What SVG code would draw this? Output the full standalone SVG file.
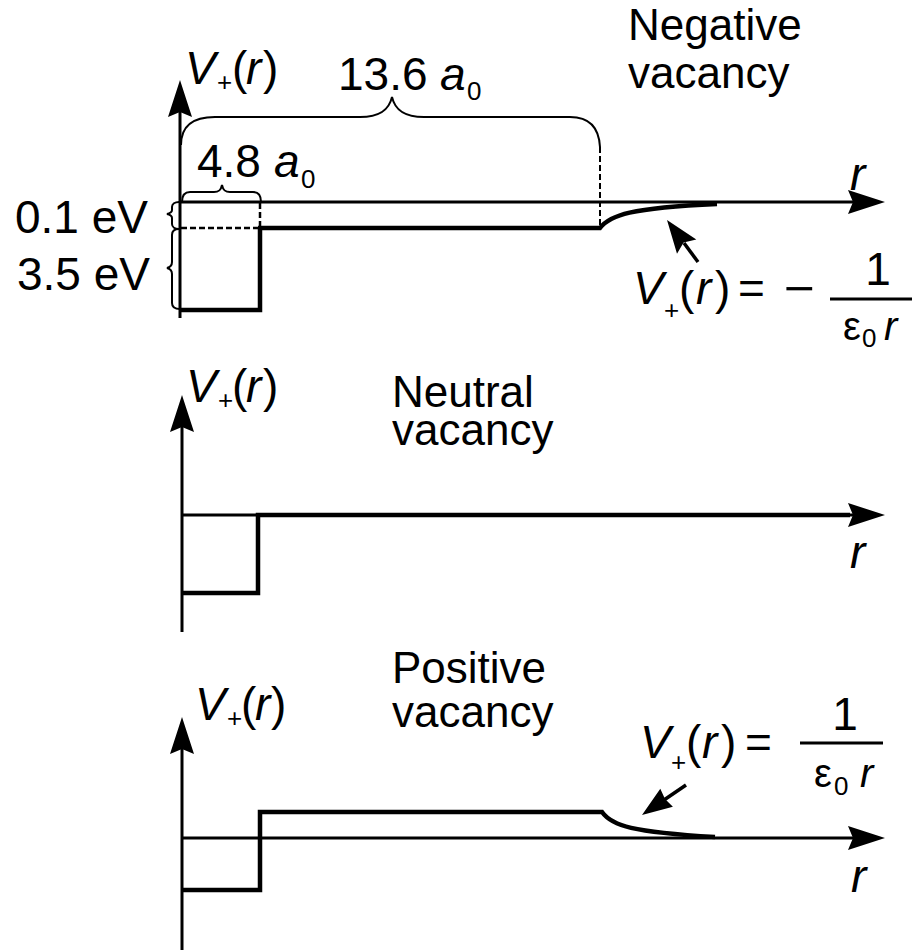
<svg xmlns="http://www.w3.org/2000/svg" width="912" height="952" viewBox="0 0 912 952">
<style>
.ax{stroke:#000;stroke-width:3;fill:none}
.gr{stroke:#000;stroke-width:4.5;fill:none;stroke-linejoin:miter}
.dash{stroke:#000;stroke-width:2.5;stroke-dasharray:6 3;fill:none}
.br{stroke:#000;stroke-width:2;fill:none}
.t{font-family:"Liberation Sans",Arial,Helvetica,sans-serif;fill:#000}
.i{font-style:italic}
.big{font-size:46px}
.lab{font-size:44px}
.sub{font-size:26px}
.den{font-size:40px}
</style>
<defs>
<path id="ahR" d="M0,0 L-37,-12 L-32,0 L-37,12 Z" fill="#000"/>
<path id="ahU" d="M0,0 L-12,37 L0,32 L12,37 Z" fill="#000"/>
</defs>

<g id="panel-negative">
  <g id="neg-axes">
    <line class="ax" x1="180" y1="318" x2="180" y2="105"/>
    <use href="#ahU" x="180" y="80"/>
    <line class="ax" x1="180" y1="202" x2="860" y2="202"/>
    <use href="#ahR" x="885" y="202"/>
  </g>
  <g id="neg-curve">
    <path class="gr" d="M180,310 H260 V228"/>
    <line class="dash" x1="260" y1="203" x2="260" y2="228"/>
    <line class="dash" x1="181" y1="228" x2="258" y2="228"/>
    <path class="gr" d="M258,228 H600 C610,215 630,208 717,204"/>
    <line class="dash" x1="600" y1="147" x2="600" y2="228" style="stroke-width:2"/>
  </g>
  <g id="neg-braces">
    <path class="br" d="M181,145 C181,126 192,117 215,117 L360,117 C380,117 389,110 392,97 C395,110 404,117 424,117 L570,117 C590,117 599,128 600,147"/>
    <path class="br" d="M182,202 C182,195 185,192 190,192 L214,192 C219,192 221,190 222,185 C223,190 225,192 230,192 L253,192 C258,192 261,195 261,202"/>
    <path class="br" d="M179,202 C175,202 172,204 172,207 L172,210 C172,212 171,213 167,214 C171,215 172,216 172,218 L172,224 C172,227 175,229 179,229"/>
    <path class="br" d="M179,229 C175,229 172,231 172,235 L172,262 C172,265 171,267 167,268 C171,269 172,271 172,274 L172,303 C172,307 175,309 180,309"/>
  </g>
  <g id="neg-labels" class="t">
    <text class="big"><tspan class="i" x="185" y="84">V</tspan><tspan class="sub" x="217" y="91">+</tspan><tspan x="232" y="84">(</tspan><tspan class="i" x="246" y="84">r</tspan><tspan x="263" y="84">)</tspan></text>
    <text class="big"><tspan x="338" y="90">13.6 </tspan><tspan class="i" x="440" y="90">a</tspan><tspan class="sub" x="467" y="100">0</tspan></text>
    <text class="big"><tspan x="197" y="177">4.8 </tspan><tspan class="i" x="274" y="177">a</tspan><tspan class="sub" x="301" y="188">0</tspan></text>
    <text class="big" x="15" y="233">0.1 eV</text>
    <text class="big" x="17" y="290">3.5 eV</text>
    <text class="lab" x="628" y="40">Negative</text>
    <text class="lab" x="628" y="88">vacancy</text>
    <text class="big i" x="850" y="190">r</text>
  </g>
  <g id="neg-formula" class="t">
    <text class="big"><tspan class="i" x="633" y="304">V</tspan><tspan class="sub" x="664" y="319">+</tspan><tspan x="679" y="304">(</tspan><tspan class="i" x="696" y="304">r</tspan><tspan x="715" y="304">)</tspan><tspan x="738" y="304">=</tspan></text>
    <text class="big" x="784" y="304" textLength="31" lengthAdjust="spacingAndGlyphs">−</text>
    <text class="big" x="878" y="285" text-anchor="middle">1</text>
    <line x1="830" y1="299" x2="912" y2="299" stroke="#000" stroke-width="3"/>
    <text class="den"><tspan x="843" y="340">ε</tspan><tspan class="sub" x="862" y="347">0</tspan><tspan class="i" x="884" y="340">r</tspan></text>
  </g>
</g>

<g id="panel-neutral">
  <g id="neu-axes">
    <line class="ax" x1="182" y1="632" x2="182" y2="420"/>
    <use href="#ahU" x="182" y="395"/>
    <line class="ax" x1="182" y1="515" x2="860" y2="515"/>
    <use href="#ahR" x="885" y="515"/>
  </g>
  <path id="neu-curve" class="gr" d="M182,593 H258 V515 H850"/>
  <g id="neu-labels" class="t">
    <text class="big"><tspan class="i" x="186" y="402">V</tspan><tspan class="sub" x="218" y="409">+</tspan><tspan x="232" y="402">(</tspan><tspan class="i" x="246" y="402">r</tspan><tspan x="263" y="402">)</tspan></text>
    <text class="lab" x="392" y="407">Neutral</text>
    <text class="lab" x="392" y="445">vacancy</text>
    <text class="big i" x="850" y="568">r</text>
  </g>
</g>

<g id="panel-positive">
  <g id="pos-axes">
    <line class="ax" x1="182" y1="950" x2="182" y2="742"/>
    <use href="#ahU" x="182" y="717"/>
    <line class="ax" x1="182" y1="838" x2="860" y2="838"/>
    <use href="#ahR" x="885" y="838"/>
  </g>
  <path id="pos-curve" class="gr" d="M182,890 H260 V812 H602 C612,826 632,832 715,837"/>
  <g id="pos-labels" class="t">
    <text class="big"><tspan class="i" x="195" y="720">V</tspan><tspan class="sub" x="227" y="727">+</tspan><tspan x="241" y="720">(</tspan><tspan class="i" x="255" y="720">r</tspan><tspan x="271" y="720">)</tspan></text>
    <text class="lab" x="392" y="683">Positive</text>
    <text class="lab" x="392" y="727">vacancy</text>
    <text class="big i" x="851" y="892">r</text>
  </g>
  <g id="pos-formula" class="t">
    <text class="big"><tspan class="i" x="640" y="758">V</tspan><tspan class="sub" x="671" y="771">+</tspan><tspan x="686" y="758">(</tspan><tspan class="i" x="702" y="758">r</tspan><tspan x="721" y="758">)</tspan><tspan x="745" y="758">=</tspan></text>
    <text class="big" x="845" y="730" text-anchor="middle">1</text>
    <line x1="800" y1="743" x2="883" y2="743" stroke="#000" stroke-width="3"/>
    <text class="den"><tspan x="814" y="787">ε</tspan><tspan class="sub" x="834" y="795">0</tspan><tspan class="i" x="860" y="787">r</tspan></text>
  </g>
</g>

<g id="connectors">
  <line x1="698" y1="262" x2="684" y2="243" stroke="#000" stroke-width="3.5"/>
  <path d="M667,220 L696.3,239.5 L683.6,242.5 L677,253.7 Z" fill="#000"/>
  <line x1="686" y1="785" x2="664" y2="800" stroke="#000" stroke-width="3.5"/>
  <path d="M642,815 L660.3,788.8 L665,799 L672.9,806.8 Z" fill="#000"/>
</g>
</svg>
